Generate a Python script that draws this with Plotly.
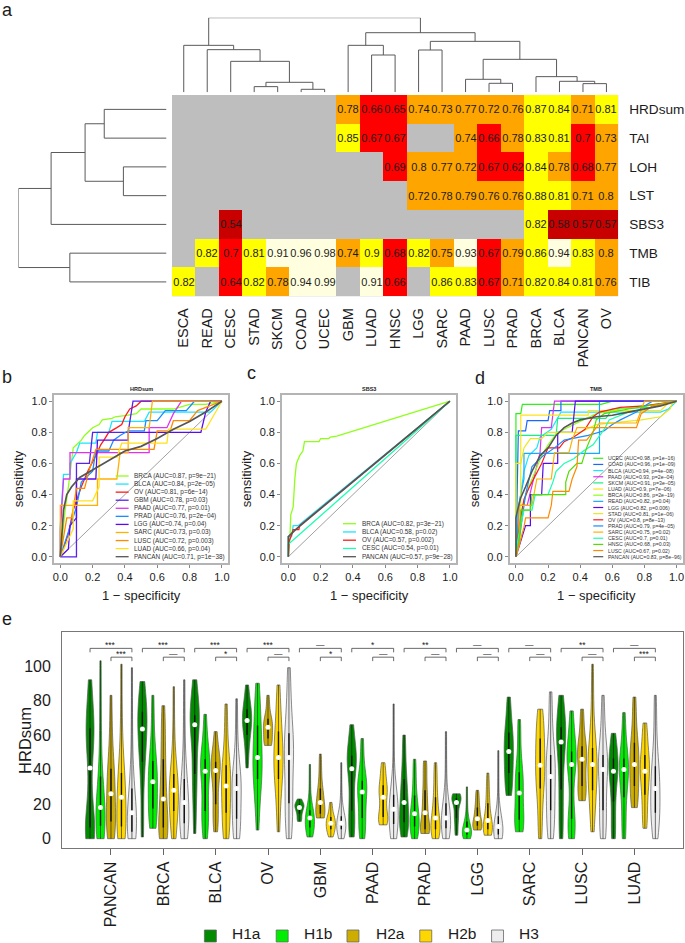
import numpy as np
import plotly.graph_objects as go

W, H = 685, 943
FONT = "Liberation Sans"
INK = "#1c1c1c"

# ---------- panel a: heatmap ----------
hm_cancers = ["ESCA","READ","CESC","STAD","SKCM","COAD","UCEC","GBM","LUAD","HNSC","LGG","SARC","PAAD","LUSC","PRAD","BRCA","BLCA","PANCAN","OV"]
hm_rows = ["HRDsum","TAI","LOH","LST","SBS3","TMB","TIB"]
_ = None
auc_HRDsum = [_,_,_,_,_,_,_,.78,.66,.65,.74,.73,.77,.72,.76,.87,.84,.71,.81]
auc_TAI    = [_,_,_,_,_,_,_,.85,.67,.67,_,_,.74,.66,.78,.83,.81,.7,.73]
auc_LOH    = [_,_,_,_,_,_,_,_,_,.69,.8,.77,.72,.67,.62,.84,.78,.68,.77]
auc_LST    = [_,_,_,_,_,_,_,_,_,_,.72,.78,.79,.76,.76,.88,.81,.71,.8]
auc_SBS3   = [_,_,.54,_,_,_,_,_,_,_,_,_,_,_,_,.82,.58,.57,.57]
auc_TMB    = [_,.82,.7,.81,.91,.96,.98,.74,.9,.68,.82,.75,.93,.67,.79,.86,.94,.83,.8]
auc_TIB    = [.82,_,.64,.82,.78,.94,.99,_,.91,.66,_,.86,.83,.67,.71,.82,.84,.81,.76]

# dendrograms: (left, right, height); ints >=0 are leaves, "mN" is merge N
col_merges = [(3,4,17),(5,6,9),("m0","m1",30),(2,"m2",93),(1,"m3",128),(0,"m4",141),
              (8,9,112),(7,"m6",141),(10,11,127),(13,14,27),(12,"m9",39),(17,18,26),
              (16,"m11",33),(15,"m12",47),("m10","m13",99),("m8","m14",153),("m7","m15",179),("m5","m16",224)]
row_merges = [(0,1,143),(2,3,99),("m0","m1",187),("m2",4,265),(5,6,222),("m3","m4",340)]

# ---------- panels b-d: ROC ----------
b_title = "HRDsum"
b_names = ["BRCA","BLCA","OV","GBM","PAAD","PRAD","LGG","SARC","LUSC","LUAD","PANCAN"]
b_auc = ["0.87","0.84","0.81","0.78","0.77","0.76","0.74","0.73","0.72","0.66","0.71"]
b_p = ["9e−21","2e−05","6e−14","0.03","0.01","2e−04","0.04","0.03","0.003","0.04","1e−38"]
b_curves = [
 [(0,0),(.01,.1),(.03,.3),(.05,.45),(.07,.6),(.08,.7),(.1,.72),(.13,.75),(.15,.78),(.17,.8),(.2,.83),(.24,.85),(.26,.88),(.32,.89),(.34,.9),(.42,.91),(.47,.92),(.5,.95),(.7,.95),(.8,.98),(.9,.98),(1,1)],
 [(0,0),(0,.2),(.02,.53),(.06,.53),(.06,.6),(.1,.67),(.12,.73),(.22,.73),(.23,.8),(.3,.8),(.32,.87),(.52,.87),(.55,.93),(.93,.93),(1,1)],
 [(0,0),(.02,.05),(.05,.15),(.08,.3),(.13,.45),(.17,.55),(.22,.65),(.25,.72),(.27,.75),(.3,.8),(.35,.83),(.38,.85),(.4,.9),(.43,.95),(.47,.97),(.5,1),(1,1)],
 [(0,0),(.1,0),(.1,.6),(.18,.6),(.2,.8),(.42,.8),(.45,1),(1,1)],
 [(0,0),(0,.17),(.02,.5),(.06,.5),(.06,.67),(.55,.67),(.55,.83),(.66,.83),(.7,.92),(.75,1),(1,1)],
 [(0,0),(.03,.1),(.06,.2),(.1,.32),(.13,.48),(.2,.55),(.22,.68),(.3,.68),(.33,.75),(.37,.78),(.42,.81),(.52,.81),(.53,.875),(.6,.875),(.65,.94),(.78,.94),(.83,1),(1,1)],
 [(0,0),(.05,.05),(.06,.2),(.1,.25),(.1,.5),(.22,.5),(.23,.75),(.42,.75),(.42,.8),(.87,.8),(.9,.93),(.93,1),(1,1)],
 [(0,0),(0,.33),(.23,.33),(.23,.5),(.35,.5),(.37,.67),(.42,.67),(.42,.83),(.55,.83),(.57,1),(1,1)],
 [(0,0),(.02,.12),(.04,.25),(.07,.25),(.1,.44),(.15,.44),(.18,.56),(.22,.69),(.58,.69),(.6,.81),(.68,.81),(.7,.875),(.8,.875),(.85,.94),(1,1)],
 [(0,0),(.08,.18),(.08,.36),(.2,.36),(.24,.45),(.24,.64),(.35,.64),(.38,.73),(.66,.73),(.67,.82),(.9,.82),(1,1)],
 [(0,0),(.01,.15),(.02,.3),(.04,.4),(.07,.45),(.12,.51),(.2,.56),(.3,.62),(.4,.68),(.5,.71),(.6,.76),(.7,.82),(.8,.87),(.9,.93),(1,1)],
]
c_title = "SBS3"
c_names = ["BRCA","BLCA","OV","CESC","PANCAN"]
c_auc = ["0.82","0.58","0.57","0.54","0.57"]
c_p = ["3e−21","0.02","0.002","0.01","9e−28"]
c_curves = [
 [(0,0),(.01,.13),(.015,.27),(.03,.32),(.04,.5),(.05,.6),(.07,.65),(.09,.68),(.1,.74),(.19,.74),(.2,.76),(.25,.76),(.26,.77),(.3,.775),(1,1)],
 [(0,0),(0,.13),(.02,.13),(.03,.2),(.06,.2),(1,1)],
 [(0,0),(.005,.1),(.02,.14),(.03,.175),(.065,.175),(.07,.2),(1,1)],
 [(0,0),(0,.08),(1,1)],
 [(0,0),(0,.13),(.05,.18),(1,1)],
]
d_title = "TMB"
d_names = ["UCEC","COAD","BLCA","PAAD","SKCM","LUAD","BRCA","READ","LGG","STAD","OV","PRAD","SARC","CESC","HNSC","LUSC","PANCAN"]
d_auc = ["0.98","0.96","0.94","0.93","0.91","0.9","0.86","0.82","0.82","0.81","0.8","0.79","0.75","0.7","0.68","0.67","0.83"]
d_p = ["1e−16","1e−09","4e−08","2e−04","3e−05","7e−06","2e−19","0.04","0.006","1e−06","8e−13","4e−05","0.02","0.01","0.03","0.02","8e−96"]
d_curves = [
 [(0,0),(0,.92),(.03,.92),(.04,.98),(.53,.98),(.6,1),(1,1)],
 [(0,0),(.01,.5),(.015,.81),(.06,.81),(.07,.875),(.2,.875),(.21,.94),(.28,.94),(.28,1),(1,1)],
 [(0,0),(0,.2),(.02,.33),(.05,.55),(.08,.65),(.13,.7),(.15,.77),(.22,.82),(.28,.93),(.9,.93),(.95,.95),(1,1)],
 [(0,0),(.02,.33),(.07,.33),(.15,.67),(.16,.83),(.22,.83),(.24,1),(1,1)],
 [(0,0),(0,.78),(.25,.78),(.26,.89),(.56,.89),(.6,.95),(.85,.96),(1,1)],
 [(0,0),(0,.6),(.03,.6),(.03,.91),(.45,.91),(.45,.94),(.9,.94),(.96,1),(1,1)],
 [(0,0),(.02,.2),(.05,.35),(.08,.45),(.12,.55),(.16,.65),(.2,.72),(.25,.79),(.3,.82),(.4,.87),(.5,.92),(.65,.95),(.8,.97),(1,1)],
 [(0,0),(.02,.35),(.05,.5),(.05,.665),(.52,.665),(.52,1),(1,1)],
 [(0,0),(.06,.2),(.09,.2),(.09,.4),(.16,.4),(.17,.6),(.26,.6),(.26,.8),(.35,.8),(.37,1),(1,1)],
 [(0,0),(.03,.12),(.03,.6),(.05,.7),(.09,.76),(.16,.76),(.2,.8),(.4,.8),(.5,.85),(.78,.88),(.9,.9),(.96,.95),(.97,.98),(1,1)],
 [(0,0),(.02,.2),(.05,.37),(.08,.44),(.12,.52),(.16,.6),(.2,.7),(.27,.7),(.3,.74),(.36,.77),(.43,.82),(.48,.9),(.52,.93),(.65,.96),(.8,.97),(1,1)],
 [(0,0),(.03,.18),(.06,.4),(.1,.58),(.17,.65),(.24,.7),(.3,.75),(.45,.78),(.55,.81),(.6,.85),(.65,.88),(.75,.93),(.8,.97),(.85,1),(1,1)],
 [(0,0),(.02,.1),(.02,.33),(.1,.33),(.13,.5),(.22,.5),(.24,.67),(.33,.67),(.35,.75),(.38,.83),(.5,.83),(.52,.86),(.75,.86),(.8,1),(1,1)],
 [(0,0),(.01,.1),(.03,.2),(.05,.3),(.1,.3),(.12,.4),(.2,.4),(.23,.48),(.25,.55),(.3,.6),(.36,.63),(.42,.68),(.48,.72),(.55,.82),(.58,.88),(.7,.93),(.8,.95),(1,1)],
 [(0,0),(.02,.1),(.03,.22),(.03,.3),(.09,.3),(.1,.4),(.31,.4),(.31,.48),(.33,.55),(.38,.6),(.41,.6),(.44,.7),(.48,.8),(.5,.88),(.55,.92),(.7,.95),(1,1)],
 [(0,0),(.03,.12),(.05,.19),(.06,.25),(.2,.25),(.22,.33),(.23,.42),(.33,.42),(.35,.5),(.38,.58),(.39,.75),(.44,.75),(.5,.83),(.75,.83),(.78,.92),(.85,.97),(1,1)],
 [(0,0),(0,.25),(.01,.3),(.03,.38),(.06,.45),(.1,.55),(.15,.65),(.2,.7),(.25,.78),(.3,.83),(.35,.86),(.4,.88),(.5,.9),(.6,.91),(.7,.93),(.8,.95),(.9,.97),(1,1)],
]
roc_colors = {"BRCA":"#8fff1a","BLCA":"#1ae6ff","OV":"#ff1a1a","GBM":"#5522ee","PAAD":"#dd33ee","PRAD":"#1a8cff",
              "LGG":"#5a0aee","SARC":"#ffb000","LUSC":"#ff8a00","LUAD":"#ffe21a","PANCAN":"#555555","CESC":"#1affb0",
              "UCEC":"#33ee1a","COAD":"#1a66ff","SKCM":"#1aee80","READ":"#1aa8ff","STAD":"#e8e820","HNSC":"#55dd00"}

# ---------- panel e: violins (H1a, H1b, H2a, H2b, H3) ----------
groups = ["H1a","H1b","H2a","H2b","H3"]
group_colors = ["#008B00","#00EE00","#CDAD00","#FFD700","#EDEDED"]
vio_cancers = ["PANCAN","BRCA","BLCA","OV","GBM","PAAD","PRAD","LGG","SARC","LUSC","LUAD"]
sig_all = ["***","***","***","***","—","*","**","—","—","**","—"]
sig_h2 = ["***","—","*","—","*","—","—","—","—","—","***"]
s_PANCAN = [[0,0,2,5,8,14,25,41,52,58,62,66,72,80,92],[0,1,3,6,9,12,15,18,21,26,32,40,58,78,103],[0,2,5,9,11,15,20,26,30,34,38,43,52,65,83],[0,1,3,6,8,12,18,24,28,32,36,40,52,72,101],[0,0,1,3,5,8,11,15,18,21,26,32,45,68,99]]
s_BRCA = [[1,12,30,42,47,52,58,63.5,66,69,72,75,80,86,91],[6,8,11,15,20,24,28,33,36,39,43,47,55,68,83],[0,1,3,5,8,12,18,23,28,34,42,50,58,68,77],[0,5,10,14,18,21,25,28,30,32,35,40,48,65,88],[0,2,5,8,10,13,17,21,24,28,32,37,48,68,92]]
s_BLCA = [[3,15,28,35,40,50,60,66,68,70,71,72,78,86,92],[0,6,10,14,18,25,32,39,41,43,45,47,52,62,72],[4,8,12,18,22,28,34,39.5,41,42,44,45,48,55,62],[0,3,7,12,18,22,26,30.5,34,38,41,44,52,65,78],[0,2,5,9,14,18,23,29,31,33,36,39,46,62,81]]
s_OV = [[41,48,54,58,62,64,66,68.5,70,72,74,76,79,84,89],[5,18,26,32,37,40,44,47,52,58,63,68,74,82,90],[54,54,55,57,59,61,63,64.5,65,67,69,70,73,78,83],[4,16,26,32,37,40,44,47,50,54,60,64,70,80,89],[0,6,12,18,23,32,40,47,50,53,58,64,72,85,99]]
s_GBM = [[10,11,12,14,15,16,17,18,18.5,19,19.5,20,21,22,23],[1,2,4,6,7,8,10,12,13,14,16,17,22,32,43],[12,12,13,14,15,17,19,21,23,25,28,30,36,42,49],[1,2,4,5,6,7,8,9,10,11,12,13,15,18,21],[0,2,4,5,6,7,8,9,10,11,12,14,20,30,44]]
s_PAAD = [[1,3,8,14,18.5,25,33,40.5,43,45,47,49,53,60,66],[0,2,6,10,14,18,23,27,29,31,33,34,40,50,58],None,[8,9,10,12,13,16,20,24,26,28,30,32,36,40,44],[0,2,4,7,10,12,15,17,19,22,24,27,34,55,78]]
s_PRAD = [[1,4,7,9,10,13,17,21,24,27,32,37,43,52,60],[0,2,4,6,8,10,12,14.5,16,19,23,27,33,40,46],[3,3,4,5,6,8,11,15,18,22,26,30,36,42,45],[0,1,3,5,6,8,10,12,14,18,22,26,32,38,44],[0,1,3,5,7,9,10,12,14,16,19,22,30,45,62]]
s_LGG = [[2,4,8,11,13,15,18,21,22,22.5,23,24,25,25.5,26],[0,0,1,2,3,3.5,4,5,6,7,9,11,15,22,30],[5,5,6,7,8,9,10,11.5,13,15,17,19,22,25,28],[2,2,4,5,6,7,9,10.6,12,15,19,22,27,32,38],[0,0,1,2,3,4,5,7,8,10,12,14,22,36,51]]
s_SARC = [[25,27,32,36,40,43,47,50.5,53,57,60,63,68,75,82],[4,5,7,10,12,16,22,26.5,30,34,37,40,48,60,69],None,[0,8,18,26,32,35,39,42.5,47,52,56,60,65,71,75],[0,4,9,14,19,24,30,36,39,43,47,50,58,72,85]]
s_LUSC = [[0,5,15,25,32,42,50,56,58,60,63,66,72,78,83],[0,3,6,10,13,24,36,43,45,47,49,52,58,66,74],[22,24,26,29,32,36,42,46,48,50,52,55,60,68,75],[4,12,20,26,30,35,40,43,45,47,50,55,65,82,101],[0,3,8,14,19,26,34,40,42,44,47,50,58,70,83]]
s_LUAD = [[0,3,10,18,25,30,35,39,41,43,45,48,52,57,61],[0,4,12,20,28,32,36,40,41,43,45,48,55,64,73],[18,20,23,28,33,36,40,43,46,50,54,57,64,74,82],[6,10,16,23,28,32,36,39,41,44,47,50,56,62,67],[0,5,9,13,17,20,24,29,33,37,40,44,54,68,83]]
vio_samples = [s_PANCAN,s_BRCA,s_BLCA,s_OV,s_GBM,s_PAAD,s_PRAD,s_LGG,s_SARC,s_LUSC,s_LUAD]

# ---------- helpers ----------
def X(px): return px / W
def Y(py): return 1 - py / H
def dom_x(a, b): return [X(a), X(b)]
def dom_y(top, bottom): return [Y(bottom), Y(top)]

fig = go.Figure()
annots, shapes = [], []

def note(px, py, text, size, xanchor="left", yanchor="middle", color=INK, **kw):
    annots.append(dict(x=X(px), y=Y(py), xref="paper", yref="paper", text=text, showarrow=False,
                       xanchor=xanchor, yanchor=yanchor, font=dict(size=size, color=color, family=FONT),
                       borderpad=0, **kw))

# ---------- heatmap ----------
HX0, HX1, HY0, HY1 = 171.5, 619, 95, 296.3
z_rows = [auc_HRDsum, auc_TAI, auc_LOH, auc_LST, auc_SBS3, auc_TMB, auc_TIB]
txt = [["" if v is None else str(v) for v in r] for r in z_rows]
cs = [[0,"#c80000"],[.2,"#c80000"],[.2,"#ff0000"],[.41,"#ff0000"],[.41,"#ffa500"],[.61,"#ffa500"],
      [.61,"#ffff00"],[.81,"#ffff00"],[.81,"#ffffe0"],[1,"#ffffe0"]]
fig.add_trace(go.Heatmap(z=z_rows, x=hm_cancers, y=hm_rows, text=txt, texttemplate="%{text}",
                         textfont=dict(size=11, color=INK, family=FONT), colorscale=cs, zmin=.5, zmax=1,
                         showscale=False, hoverongaps=False, xaxis="x", yaxis="y"))
shapes.append(dict(type="rect", xref="x domain", yref="y domain", x0=0, x1=1, y0=0, y1=1,
                   fillcolor="#bebebe", line_width=0, layer="below"))

def dendro(merges):
    pos, segs = {}, []
    def loc(k):
        return (k, 0) if isinstance(k, int) else pos[int(k[1:])]
    for i, (a, b, h) in enumerate(merges):
        pa, ha = loc(a); pb, hb = loc(b)
        segs.append(([pa, pa, pb, pb, None], [ha, h, h, hb, None]))
        pos[i] = ((pa + pb) / 2, h)
    p, q = [], []
    for s, t in segs:
        p += s; q += t
    return p, q

p, q = dendro(col_merges)
fig.add_trace(go.Scatter(x=p, y=q, mode="lines", line=dict(color="#5a5a5a", width=1), xaxis="x2", yaxis="y2", showlegend=False))
p, q = dendro(row_merges)
fig.add_trace(go.Scatter(x=q, y=p, mode="lines", line=dict(color="#5a5a5a", width=1), xaxis="x3", yaxis="y3", showlegend=False))

# ---------- ROC ----------
def roc_panel(ax, names, aucs, ps, curves, title, box, leg, font_size, lw):
    xa, ya = ax
    fig.add_trace(go.Scatter(x=[0, 1], y=[0, 1], mode="lines", line=dict(color="#777777", width=.7),
                             xaxis=xa, yaxis=ya, showlegend=False))
    for nm, c in zip(names, curves):
        w = lw + .4 if nm == "PANCAN" else lw
        fig.add_trace(go.Scatter(x=[a for a, _b in c], y=[b for _a, b in c], mode="lines",
                                 line=dict(color=roc_colors[nm], width=w), name=nm,
                                 xaxis=xa, yaxis=ya, showlegend=False))
    note((box[0] + box[1]) / 2, 388.5, f"<b>{title}</b>", 5.5, xanchor="center")
    lx0, lx1, tx, ry0, ry1 = leg
    n = len(names)
    for i, (nm, a, pv) in enumerate(zip(names, aucs, ps)):
        ry = ry0 + (ry1 - ry0) * i / (n - 1)
        shapes.append(dict(type="line", xref="paper", yref="paper", x0=X(lx0), x1=X(lx1), y0=Y(ry), y1=Y(ry),
                           line=dict(color=roc_colors[nm], width=lw)))
        note(tx, ry, f"{nm} (AUC={a}, p={pv})", font_size, color="#333333")

BY0, BY1 = 395, 563
PB, PC, PD = (53, 228), (281.7, 456.7), (510, 684)
roc_panel(("x4","y4"), b_names, b_auc, b_p, b_curves, b_title, PB, (115,128,132.7,476,556.7), 6.4, 1.3)
roc_panel(("x5","y5"), c_names, c_auc, c_p, c_curves, c_title, PC, (343,356,361,523.7,556.7), 6.4, 1.3)
roc_panel(("x6","y6"), d_names, d_auc, d_p, d_curves, d_title, PD, (594,604,608,458.3,556.7), 5.2, 1.2)

# ---------- violins ----------
wh_x, wh_y, iq_x, iq_y, md_x, md_y = [], [], [], [], [], []
for ci, per_group in enumerate(vio_samples):
    for gi, s in enumerate(per_group):
        if s is None:
            continue
        pos = ci * 5 + gi + 1
        rng = max(s) - min(s)
        fig.add_trace(go.Violin(y=s, x0=pos, width=.88, name=f"{vio_cancers[ci]} {groups[gi]}",
                                spanmode="hard", bandwidth=rng / 7.5, points=False,
                                fillcolor=group_colors[gi], line=dict(color="#5a5a5a", width=.7), opacity=1,
                                box_visible=False, meanline_visible=False, showlegend=False,
                                xaxis="x7", yaxis="y7"))
        q1, med, q3 = np.percentile(s, 25), np.median(s), np.percentile(s, 75)
        wh_x += [pos, pos, None]; wh_y += [min(s), max(s), None]
        iq_x += [pos, pos, None]; iq_y += [q1, q3, None]
        md_x.append(pos); md_y.append(med)
fig.add_trace(go.Scatter(x=wh_x, y=wh_y, mode="lines", line=dict(color="#111111", width=.6), xaxis="x7", yaxis="y7", showlegend=False))
fig.add_trace(go.Scatter(x=iq_x, y=iq_y, mode="lines", line=dict(color="#111111", width=1.4), xaxis="x7", yaxis="y7", showlegend=False))
fig.add_trace(go.Scatter(x=md_x, y=md_y, mode="markers", marker=dict(color="white", size=5), xaxis="x7", yaxis="y7", showlegend=False))

br_x, br_y = [], []
for ci in range(len(vio_cancers)):
    a, c, e = ci*5+1, ci*5+3, ci*5+5
    br_x += [a, a, e, e, None]; br_y += [107.9, 110.2, 110.2, 107.9, None]
    br_x += [c, c, e, e, None]; br_y += [102.8, 105.1, 105.1, 102.8, None]
    annots.append(dict(x=ci*5+3, y=112.0, xref="x7", yref="y7", text=sig_all[ci], showarrow=False, yanchor="middle",
                       font=dict(size=8.5, color="#222222", family=FONT)))
    annots.append(dict(x=ci*5+4, y=107.0, xref="x7", yref="y7", text=sig_h2[ci], showarrow=False, yanchor="middle",
                       font=dict(size=8.5, color="#222222", family=FONT)))
fig.add_trace(go.Scatter(x=br_x, y=br_y, mode="lines", line=dict(color="#444444", width=.8), xaxis="x7", yaxis="y7", showlegend=False))

# legend of panel e
leg_sq = [204, 276, 347, 420, 492]
leg_tx = [231, 303, 375, 447, 519]
for g, col, sq, tx in zip(groups, group_colors, leg_sq, leg_tx):
    shapes.append(dict(type="rect", xref="paper", yref="paper", x0=X(sq), x1=X(sq+12), y0=Y(942), y1=Y(930),
                       fillcolor=col, line=dict(color="#666666", width=.8)))
    note(tx, 943, g, 15.5, yanchor="bottom")

# panel letters
for t, px, py in [("a",0,10.5),("b",0,377),("c",246,373),("d",474,378),("e",0,619)]:
    note(px, py, t, 18)

# y title of panel e
note(24, 740, "HRDsum", 16.5, xanchor="center", textangle=-90)

# ---------- axes ----------
blank = dict(showgrid=False, zeroline=False, showticklabels=False, ticks="", showline=False)
roc_common = dict(range=[-.04, 1.04], tickvals=[0,.2,.4,.6,.8,1], ticktext=["0.0","0.2","0.4","0.6","0.8","1.0"],
                  showgrid=False, zeroline=False, showline=True, mirror=True, linecolor="#b4b4b4", linewidth=1.5,
                  ticks="outside", ticklen=3, tickcolor="#888888", tickwidth=.8, tickfont=dict(size=11, color=INK))
def roc_axes(i, box):
    x = dict(roc_common, domain=dom_x(*box), anchor=f"y{i}", title=dict(text="1 − specificity", font=dict(size=13, color=INK), standoff=9))
    y = dict(roc_common, domain=dom_y(BY0, BY1), anchor=f"x{i}", tickangle=0, title=dict(text="sensitivity", font=dict(size=13, color=INK), standoff=5))
    return {f"xaxis{i}": x, f"yaxis{i}": y}

layout = dict(
    width=W, height=H, autosize=False, margin=dict(l=0, r=0, t=0, b=0, pad=0),
    paper_bgcolor="white", plot_bgcolor="white", font=dict(family=FONT, color=INK), showlegend=False,
    violinmode="overlay",
    xaxis=dict(domain=dom_x(HX0, HX1), anchor="y", type="category", categoryorder="array", categoryarray=hm_cancers,
               tickangle=-90, ticks="", showgrid=False, zeroline=False, showline=False, tickfont=dict(size=14.5, color=INK),
               ticklabelstandoff=8),
    yaxis=dict(domain=dom_y(HY0, HY1), anchor="x", type="category", categoryorder="array", categoryarray=hm_rows,
               autorange="reversed", side="right", ticks="", showgrid=False, zeroline=False, showline=False,
               tickfont=dict(size=13.6, color=INK), ticklabelstandoff=10),
    xaxis2=dict(blank, domain=dom_x(HX0, HX1), range=[-.5, 18.5], anchor="y2"),
    yaxis2=dict(blank, domain=dom_y(17.7, 92.3), range=[0, 224], anchor="x2"),
    xaxis3=dict(blank, domain=dom_x(17.5, 166), range=[340, 0], anchor="y3"),
    yaxis3=dict(blank, domain=dom_y(HY0, HY1), range=[6.5, -.5], anchor="x3"),
    xaxis7=dict(domain=dom_x(61.3, 684.3), range=[-1.667, 57.67], anchor="y7",
                tickvals=[c*5+3 for c in range(len(vio_cancers))], ticktext=vio_cancers, tickangle=-90,
                showgrid=False, zeroline=False, showline=True, mirror=True, linecolor="#777777", linewidth=1,
                ticks="outside", ticklen=6, tickcolor="#666666", tickfont=dict(size=16, color=INK)),
    yaxis7=dict(domain=dom_y(632.3, 848.3), range=[-5.56, 119.5], anchor="x7", tickvals=[0,20,40,60,80,100],
                showgrid=False, zeroline=False, showline=True, mirror=True, linecolor="#777777", linewidth=1,
                ticks="", ticklabelstandoff=7, tickfont=dict(size=16, color=INK)),
    annotations=annots, shapes=shapes,
)
layout.update(roc_axes(4, PB)); layout.update(roc_axes(5, PC)); layout.update(roc_axes(6, PD))
fig.update_layout(**layout)
fig.write_html("out.html", config=dict(displayModeBar=False),
               post_script="document.body.style.margin='0';document.documentElement.style.overflow='hidden';")
